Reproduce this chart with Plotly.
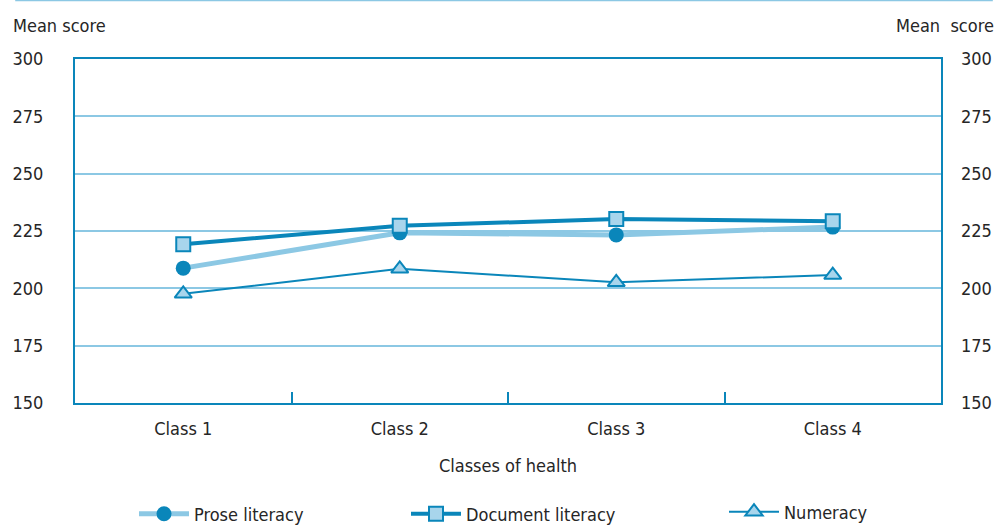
import plotly.graph_objects as go

categories = ["Class 1", "Class 2", "Class 3", "Class 4"]
prose = [208.8, 224.2, 223.3, 226.7]
document = [219.2, 227.3, 230.2, 229.3]
numeracy = [197.6, 208.5, 202.6, 205.8]
y_ticks = [150, 175, 200, 225, 250, 275, 300]

DARK = "#0a86ba"
LIGHT = "#8cc8e4"
FILL = "#a8d5ec"
TXT = "#262626"
FONT = "DejaVu Sans Condensed, Roboto, Arial, sans-serif"

fig = go.Figure()
fig.add_trace(go.Scatter(x=categories, y=prose, name="Prose literacy", mode="lines+markers",
                         line=dict(color=LIGHT, width=5),
                         marker=dict(symbol="circle", size=15, color=DARK, line=dict(width=0)),
                         legend="legend"))
fig.add_trace(go.Scatter(x=categories, y=document, name="Document literacy", mode="lines+markers",
                         line=dict(color=DARK, width=4),
                         marker=dict(symbol="square", size=14, color=FILL, line=dict(color=DARK, width=2)),
                         legend="legend2"))
fig.add_trace(go.Scatter(x=categories, y=numeracy, name="Numeracy", mode="lines+markers",
                         line=dict(color=DARK, width=2),
                         marker=dict(symbol="triangle-up", size=15, color=FILL, line=dict(color=DARK, width=2)),
                         legend="legend3"))
fig.add_trace(go.Scatter(x=categories, y=prose, yaxis="y2", mode="lines", showlegend=False,
                         line=dict(width=0), hoverinfo="skip", opacity=0))

axis_font = dict(family=FONT, size=18, color=TXT)
leg_common = dict(orientation="h", xref="container", yref="container", yanchor="middle",
                  xanchor="left", font=axis_font, bgcolor="rgba(0,0,0,0)", itemwidth=50)
fig.update_layout(
    width=1005, height=529,
    margin=dict(l=72, r=64, t=59, b=126),
    paper_bgcolor="white", plot_bgcolor="white",
    font=dict(family=FONT, size=18, color=TXT),
    xaxis=dict(type="category", range=[-0.5, 3.5], tickmode="array", tickvals=categories,
               ticks="inside", tickson="boundaries", ticklen=11, tickwidth=2, tickcolor=DARK,
               showline=True, linecolor=DARK, linewidth=2, mirror=True, showgrid=False,
               tickfont=axis_font, ticklabelstandoff=8,
               title=dict(text="Classes of health", font=axis_font, standoff=22)),
    yaxis=dict(range=[150, 300], tickvals=y_ticks, showgrid=True, gridcolor=LIGHT, gridwidth=1.5,
               showline=True, linecolor=DARK, linewidth=2, mirror=True, ticks="",
               tickfont=axis_font, ticklabelstandoff=26, zeroline=False),
    yaxis2=dict(range=[150, 300], tickvals=y_ticks, overlaying="y", side="right", showgrid=False,
                showline=False, ticks="", tickfont=axis_font, ticklabelstandoff=19, zeroline=False),
    legend=dict(x=134/1005, y=1 - 514/529, **leg_common),
    legend2=dict(x=406/1005, y=1 - 514/529, **leg_common),
    legend3=dict(x=724/1005, y=1 - 512/529, **leg_common),
    annotations=[
        dict(text="Mean score", xref="paper", yref="paper", x=(8 - 72) / 869, y=1 + (59 - 25) / 344,
             xanchor="left", yanchor="middle", showarrow=False, font=axis_font),
        dict(text="Mean  score", xref="paper", yref="paper", x=(996 - 72) / 869, y=1 + (59 - 25) / 344,
             xanchor="right", yanchor="middle", showarrow=False, font=axis_font),
    ],
    shapes=[
        dict(type="line", xref="paper", yref="paper", x0=(12 - 72) / 869, x1=(993 - 72) / 869,
             y0=1 + 58.5 / 344, y1=1 + 58.5 / 344, line=dict(color=LIGHT, width=1.5)),
    ],
    hovermode=False,
)

fig.write_html("out.html", post_script="document.body.style.margin='0';",
               config={"displayModeBar": False})
